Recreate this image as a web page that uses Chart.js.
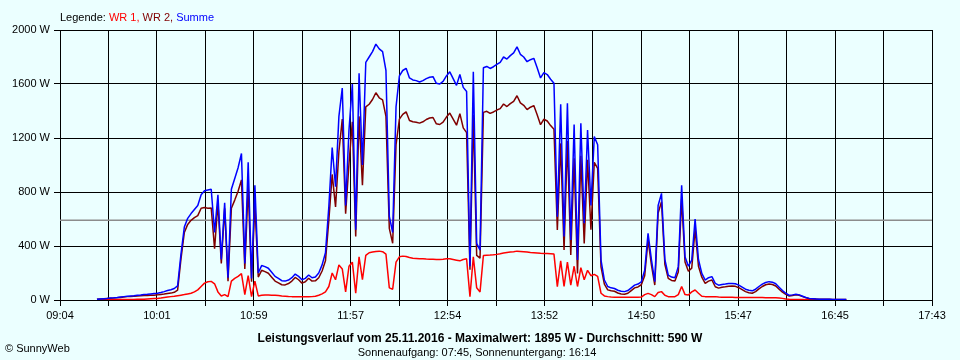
<!DOCTYPE html>
<html>
<head>
<meta charset="utf-8">
<script src="https://cdn.jsdelivr.net/npm/chart.js@4.4.1/dist/chart.umd.min.js"></script>
<style>
  html, body { margin: 0; padding: 0; background: #ebffff; }
  #wrap { width: 960px; height: 360px; }
</style>
</head>
<body>
<div id="wrap"><canvas id="c" width="960" height="360"></canvas></div>
<script>
// ---- data ----
const times = (
  "09:26 09:28 09:30 09:32 09:34 09:36 09:38 09:40 09:42 09:44 09:46 09:48 09:50 09:52 09:54 09:56 09:58 " +
  "10:00 10:02 10:04 10:06 10:08 10:10 10:12 10:14 10:16 10:18 10:20 10:22 10:24 10:26 10:28 10:30 10:32 10:34 10:36 10:38 10:40 10:42 10:44 10:46 10:48 10:50 10:52 10:54 10:56 10:58 " +
  "11:00 11:02 11:04 11:06 11:08 11:10 11:12 11:14 11:16 11:18 11:20 11:22 11:24 11:26 11:28 11:30 11:32 11:34 11:36 11:38 11:40 11:42 11:44 11:46 11:48 11:50 11:52 11:54 11:56 11:58 " +
  "12:00 12:02 12:04 12:06 12:08 12:10 12:12 12:14 12:16 12:18 12:20 12:22 12:24 12:26 12:28 12:30 12:32 12:34 12:36 12:38 12:40 12:42 12:44 12:46 12:48 12:50 12:52 12:54 12:56 12:58 " +
  "13:00 13:02 13:04 13:06 13:08 13:10 13:12 13:14 13:16 13:18 13:20 13:22 13:24 13:26 13:28 13:30 13:32 13:34 13:36 13:38 13:40 13:42 13:44 13:46 13:48 13:50 13:52 13:54 13:56 13:58 " +
  "14:00 14:02 14:04 14:06 14:08 14:10 14:12 14:14 14:16 14:18 14:20 14:22 14:24 14:26 14:28 14:30 14:32 14:34 14:36 14:38 14:40 14:42 14:44 14:46 14:48 14:50 14:52 14:54 14:56 14:58 " +
  "15:00 15:02 15:04 15:06 15:08 15:10 15:12 15:14 15:16 15:18 15:20 15:22 15:24 15:26 15:28 15:30 15:32 15:34 15:36 15:38 15:40 15:42 15:44 15:46 15:48 15:50 15:52 15:54 15:56 15:58 " +
  "16:00 16:02 16:04 16:06 16:08 16:10 16:12 16:14 16:16 16:18 16:20 16:22 16:24 16:26 16:28 16:30 16:32 16:34 16:36 16:38 16:40 16:42 16:44 16:46 16:48 16:50 16:52"
).split(" ");

const wr1 = [
  0,0,1,1,2,2,2,3,3,3,
  4,4,5,5,6,8,10,12,12,14,
  18,22,25,28,32,36,40,45,50,60,
  75,100,125,135,138,120,60,30,40,25,
  140,160,175,195,40,180,25,140,30,35,
  37,37,36,35,33,30,28,26,25,25,
  25,25,25,24,25,28,35,45,60,100,
  200,150,260,230,60,250,280,50,320,150,
  330,350,355,360,362,358,340,90,80,280,
  320,325,322,315,310,308,305,305,303,302,
  302,300,300,302,305,305,300,295,290,300,
  305,25,320,90,60,330,332,333,335,338,
  342,348,352,355,358,362,360,358,355,352,
  350,348,346,345,344,343,340,99,290,100,
  280,110,250,100,240,150,220,180,190,175,
  50,30,25,22,20,20,20,20,20,20,
  20,21,22,40,49,40,25,55,62,35,
  25,25,25,40,100,40,37,60,74,50,
  28,25,25,25,25,22,20,20,20,20,
  19,19,18,18,18,18,18,18,18,17,
  17,17,16,15,12,8,5,4,4,3,
  3,2,2,1,1,0,0,0,0,0,
  0,0,0,0
];

const wr2 = [
  5,8,9,11,13,14,16,19,22,25,
  26,28,30,32,34,34,35,36,38,41,
  44,48,51,57,73,304,500,560,590,610,
  625,680,685,680,682,380,720,270,680,140,
  680,740,805,890,230,840,135,710,170,220,
  210,198,169,140,127,113,112,122,140,167,
  150,125,135,161,140,142,165,215,290,590,
  930,690,1100,1340,640,1010,1320,470,1360,850,
  1430,1450,1485,1535,1498,1482,1360,530,420,1150,
  1340,1375,1394,1330,1320,1317,1310,1320,1337,1348,
  1352,1305,1300,1318,1355,1385,1340,1295,1380,1275,
  1240,225,1370,330,310,1390,1398,1382,1393,1407,
  1418,1452,1433,1455,1472,1513,1460,1442,1410,1428,
  1440,1372,1299,1339,1326,1292,1265,518,1160,370,
  1177,334,1050,196,1069,418,1039,520,1020,975,
  246,118,75,68,65,52,45,42,50,70,
  90,97,113,180,445,260,111,645,728,265,
  160,145,140,207,750,281,213,236,526,250,
  169,123,140,148,98,88,95,98,102,103,
  101,91,77,62,54,50,62,82,100,113,
  119,115,104,80,58,42,30,34,38,35,
  25,16,10,9,7,6,5,5,5,4,
  4,4,4,4
];

const summe = [
  5,8,10,12,15,16,18,22,25,28,
  30,32,35,37,40,42,45,48,50,55,
  62,70,76,85,105,340,540,605,640,670,
  700,780,810,815,820,500,780,300,720,165,
  820,900,980,1085,270,1020,160,850,200,255,
  247,235,205,175,160,143,140,148,165,192,
  175,150,160,185,165,170,200,260,350,690,
  1130,840,1360,1570,700,1260,1600,520,1680,1000,
  1760,1800,1840,1895,1860,1840,1700,620,500,1430,
  1660,1700,1716,1645,1630,1625,1615,1625,1640,1650,
  1654,1605,1600,1620,1660,1690,1640,1590,1670,1575,
  1545,250,1690,420,370,1720,1730,1715,1728,1745,
  1760,1800,1785,1810,1830,1875,1820,1800,1765,1780,
  1790,1720,1645,1684,1670,1635,1605,617,1450,470,
  1457,444,1300,296,1309,568,1259,700,1210,1150,
  296,148,100,90,85,72,65,62,70,90,
  110,118,135,220,494,300,136,700,790,300,
  185,170,165,247,850,321,250,296,600,300,
  197,148,165,173,123,110,115,118,122,123,
  120,110,95,80,72,68,80,100,118,130,
  136,132,120,95,70,50,35,38,42,38,
  28,18,12,10,8,6,5,5,5,4,
  4,4,4,4
];

const durchschnitt = 590;
const xTickLabels = ["09:04","10:01","10:59","11:57","12:54","13:52","14:50","15:47","16:45","17:43"];
const yTickValues = [0, 400, 800, 1200, 1600, 2000];
const legendParts = [["Legende: ", "#000000"], ["WR 1, ", "#ff0000"], ["WR 2, ", "#800000"], ["Summe", "#0000ff"]];
const titleText = "Leistungsverlauf vom 25.11.2016 - Maximalwert: 1895 W - Durchschnitt: 590 W";
const subtitleText = "Sonnenaufgang: 07:45, Sonnenuntergang: 16:14";
const copyrightText = "\u00A9 SunnyWeb";

// ---- helpers ----
const toMin = s => { const p = s.split(":"); return (+p[0]) * 60 + (+p[1]); };
const xMin = toMin(xTickLabels[0]);
const xMax = toMin(xTickLabels[xTickLabels.length - 1]);
const gridCount = (xTickLabels.length - 1) * 2;
const series = arr => arr.map((v, i) => ({ x: toMin(times[i]), y: v }));

const BG = "#ebffff";
const FONT = "'Liberation Sans', Arial, sans-serif";

const bgPlugin = {
  id: "bg",
  beforeDraw(chart) {
    const c = chart.ctx;
    c.save();
    c.fillStyle = BG;
    c.fillRect(0, 0, chart.width, chart.height);
    c.restore();
  }
};

const textPlugin = {
  id: "texts",
  afterDraw(chart) {
    const c = chart.ctx;
    c.save();
    c.textBaseline = "alphabetic";
    c.font = "11px " + FONT;
    let x = 60;
    legendParts.forEach(([t, col]) => {
      c.fillStyle = col;
      c.fillText(t, x, 21);
      x += c.measureText(t).width;
    });
    c.fillStyle = "#000";
    c.textAlign = "center";
    c.font = "bold 12px " + FONT;
    c.fillText(titleText, 480, 342);
    c.font = "11px " + FONT;
    c.fillText(subtitleText, 477, 356);
    c.textAlign = "left";
    c.fillText(copyrightText, 5, 352);
    c.restore();
  }
};

const lineDs = (label, arr, color, order) => ({
  label, data: series(arr), borderColor: color, backgroundColor: color,
  borderWidth: 1.5, pointRadius: 0, tension: 0, fill: false,
  borderJoinStyle: "bevel", order
});

new Chart(document.getElementById("c"), {
  type: "line",
  data: {
    datasets: [
      { label: "Durchschnitt", data: [{ x: xMin, y: durchschnitt }, { x: xMax, y: durchschnitt }],
        borderColor: "#8c8c8c", borderWidth: 1.5, pointRadius: 0, fill: false, order: 3 },
      lineDs("WR 1", wr1, "#ff0000", 2),
      lineDs("WR 2", wr2, "#800000", 1),
      lineDs("Summe", summe, "#0000ff", 0)
    ]
  },
  options: {
    responsive: false,
    animation: false,
    events: [],
    layout: { padding: { top: 30, right: 28, left: 0, bottom: 0 } },
    scales: {
      x: {
        type: "linear", min: xMin, max: xMax,
        afterBuildTicks(s) {
          const t = [];
          for (let k = 0; k <= gridCount; k++) t.push({ value: xMin + k * (xMax - xMin) / gridCount });
          s.ticks = t;
        },
        afterFit(s) { s.height = 60; },
        ticks: {
          autoSkip: false, maxRotation: 0, minRotation: 0, padding: 3,
          color: "#000", font: { family: FONT, size: 11 },
          callback: (v, i) => (i % 2 === 0 ? xTickLabels[i / 2] : "")
        },
        grid: { color: "#000", lineWidth: 1, tickLength: 6, drawTicks: true },
        border: { color: "#000", width: 1 }
      },
      y: {
        min: 0, max: 2000,
        afterBuildTicks(s) { s.ticks = yTickValues.map(v => ({ value: v })); },
        afterFit(s) { s.width = 60; },
        ticks: {
          padding: 4, color: "#000", font: { family: FONT, size: 11 },
          callback: v => v + " W"
        },
        grid: { color: "#000", lineWidth: 1, tickLength: 6, drawTicks: true },
        border: { color: "#000", width: 1 }
      }
    },
    plugins: { legend: { display: false }, tooltip: { enabled: false }, title: { display: false } }
  },
  plugins: [bgPlugin, textPlugin]
});
</script>
</body>
</html>
